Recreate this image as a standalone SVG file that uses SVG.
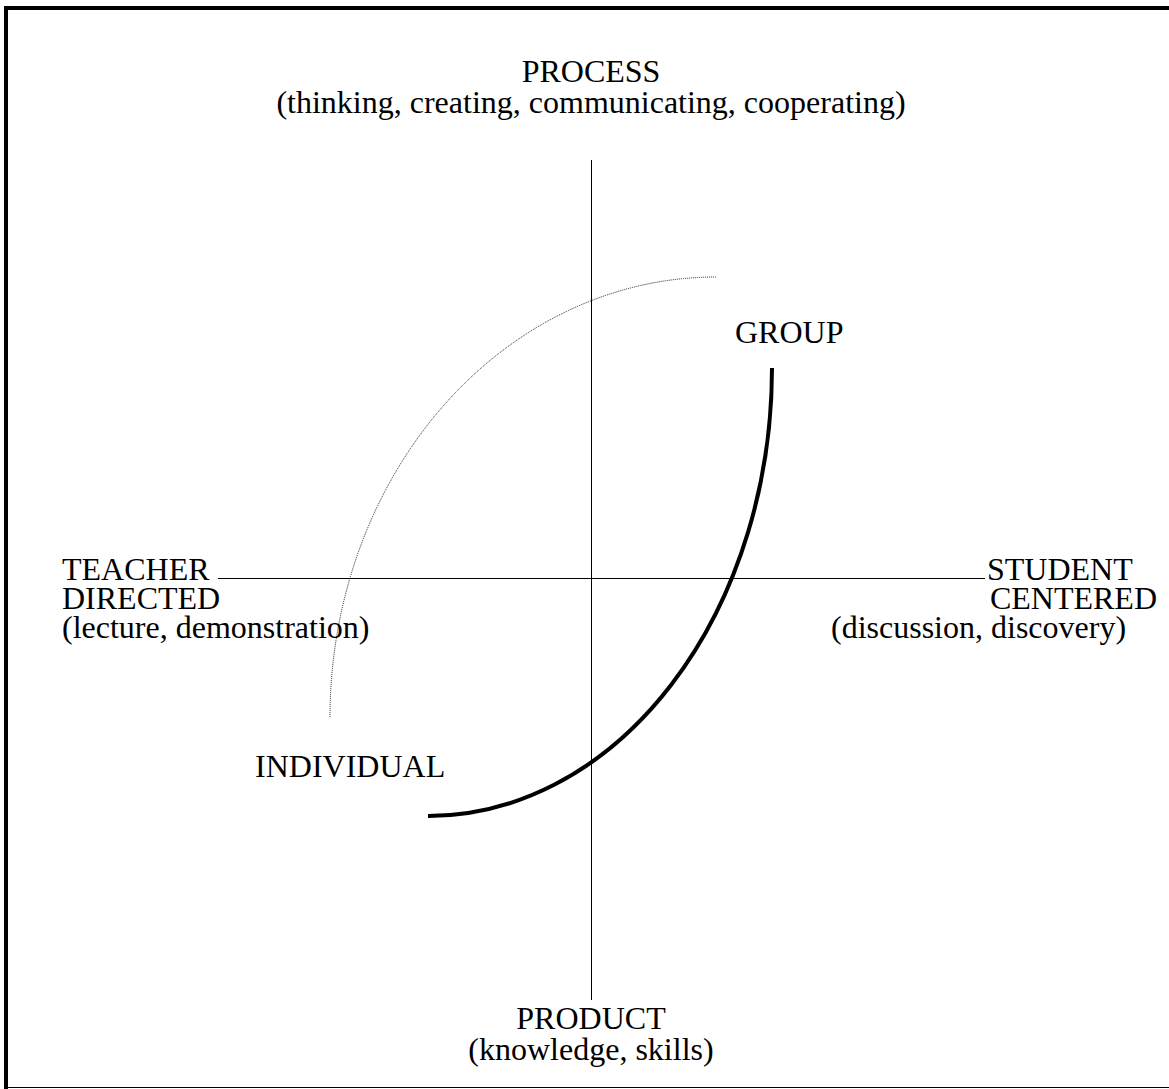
<svg xmlns="http://www.w3.org/2000/svg" width="1169" height="1089" viewBox="0 0 1169 1089">
<style>
text { font-family: "Liberation Serif", "Times New Roman", serif; font-size: 32px; fill: #000; }
.axis { stroke: #000; stroke-width: 1; fill: none; }
.border { stroke: #000; fill: none; }
.mid { text-anchor: middle; }
.end { text-anchor: end; }
</style>
<rect width="1169" height="1089" fill="#fff"/>
<g id="frame">
<line class="border" x1="4" y1="8" x2="1169" y2="8" stroke-width="4"/>
<line class="border" x1="6" y1="6" x2="6" y2="1089" stroke-width="4"/>
<line class="border" x1="8" y1="1087.5" x2="1169" y2="1087.5" stroke-width="1"/>
</g>
<g id="connectors">
<line class="axis" x1="591.5" y1="160" x2="591.5" y2="1000"/>
<line class="axis" x1="218" y1="578.5" x2="985" y2="578.5"/>
<path d="M 716 277 A 386 441 0 0 0 330 718" fill="none" stroke="#222" stroke-width="1" stroke-dasharray="1 1"/>
<path d="M 772 368 A 344 448 0 0 1 428 816" fill="none" stroke="#000" stroke-width="4"/>
</g>
<g id="process">
<text class="mid" x="591" y="82">PROCESS</text>
<text class="mid" x="591" y="113">(thinking, creating, communicating, cooperating)</text>
</g>
<g id="product">
<text class="mid" x="591" y="1029">PRODUCT</text>
<text class="mid" x="591" y="1060">(knowledge, skills)</text>
</g>
<g id="teacher">
<text x="62" y="580">TEACHER</text>
<text x="62" y="609">DIRECTED</text>
<text x="62" y="638">(lecture, demonstration)</text>
</g>
<g id="student">
<text x="987" y="580">STUDENT</text>
<text class="end" x="1157" y="609">CENTERED</text>
<text x="831" y="638">(discussion, discovery)</text>
</g>
<g id="group">
<text x="735" y="343">GROUP</text>
</g>
<g id="individual">
<text x="255" y="777">INDIVIDUAL</text>
</g>
</svg>
